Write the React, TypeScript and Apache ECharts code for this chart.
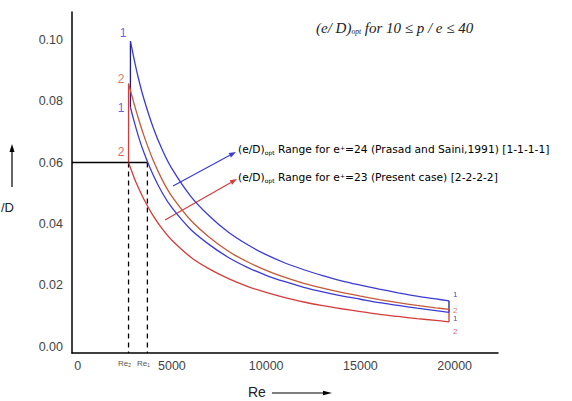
import React, { useEffect, useRef } from "react";
import * as echarts from "echarts";

// ---- data ----
const RE_TICKS = [0, 5000, 10000, 15000, 20000];
const ED_TICKS = [0, 0.02, 0.04, 0.06, 0.08, 0.1];
const RE2 = 2700;
const RE1 = 3700;
const ED_LIMIT = 0.06;

const reBlue = [2800, 3000, 3200, 3500, 4000, 4500, 5000, 6000, 7000, 8000, 9000, 10000, 11000, 12000, 13000, 14000, 15000, 16000, 17000, 18000, 19000, 19700];
const reRed = [2700, 3000, 3200, 3500, 4000, 4500, 5000, 6000, 7000, 8000, 9000, 10000, 11000, 12000, 13000, 14000, 15000, 16000, 17000, 18000, 19000, 19700];
const blueUpper = [0.0995, 0.0935, 0.088, 0.081, 0.0715, 0.064, 0.058, 0.049, 0.0425, 0.0373, 0.0333, 0.03, 0.0273, 0.0251, 0.0232, 0.0215, 0.0201, 0.0188, 0.0176, 0.0165, 0.0156, 0.015];
const redUpper = [0.0857, 0.079, 0.0748, 0.069, 0.0608, 0.0542, 0.049, 0.0412, 0.0356, 0.0311, 0.0277, 0.0249, 0.0226, 0.0207, 0.0191, 0.0177, 0.0165, 0.0154, 0.0144, 0.0135, 0.0127, 0.0122];
const blueLower = [0.078, 0.0733, 0.069, 0.0635, 0.056, 0.05, 0.0453, 0.0382, 0.0332, 0.0291, 0.0259, 0.0233, 0.0212, 0.0194, 0.0179, 0.0166, 0.0155, 0.0144, 0.0135, 0.0126, 0.0118, 0.0112];
const redLower = [0.06, 0.055, 0.0521, 0.0482, 0.0427, 0.0383, 0.0347, 0.0292, 0.0253, 0.0222, 0.0197, 0.0177, 0.016, 0.0146, 0.0134, 0.0124, 0.0115, 0.0106, 0.0099, 0.0092, 0.0086, 0.0081];

const X_MIN = -300;
const X_MAX = 22300;
const Y_MIN = -0.002;
const Y_MAX = 0.109;

const BLUE = "#3b3bd6";
const NAVY = "#202080";
const RED = "#d43c3c";
const RED2 = "#c45a38";

export default function App() {
  const ref = useRef<HTMLDivElement>(null);

  useEffect(() => {
    document.body.style.margin = "0";
    if (!ref.current) return;
    const chart = echarts.init(ref.current, null, { renderer: "svg" });

    const pts = (xs: number[], ys: number[]) => xs.map((x, i) => [x, ys[i]]);
    const last = reBlue.length - 1;
    const curve = (name: string, data: number[][], color: string) => ({
      name,
      type: "line",
      data,
      smooth: 0.3,
      showSymbol: false,
      symbol: "none",
      lineStyle: { color, width: 1.3 },
      z: 3,
    });
    const seg = (data: number[][], color: string, type: any = "solid", width = 1.3) => ({
      type: "line",
      data,
      showSymbol: false,
      symbol: "none",
      lineStyle: { color, width, type },
      z: 2,
    });

    const lbl = (x: number, y: number, text: string, color: string, pos: string, off: number[], size: number) => ({
      value: [x, y],
      name: text,
      label: { show: true, position: pos, offset: off, color, fontSize: size, distance: 3 },
    });

    const labelSeries = {
      type: "scatter",
      symbolSize: 0,
      silent: true,
      label: { show: true, formatter: (p: any) => p.data.name, fontFamily: "Arial, Liberation Sans, sans-serif" },
      data: [
        lbl(reBlue[0], blueUpper[0], "1", BLUE, "left", [-1, -8], 12),
        lbl(reRed[0], redUpper[0], "2", RED2, "left", [-1, -5], 12),
        lbl(reBlue[0], blueLower[0], "1", BLUE, "left", [-3, 1], 12),
        lbl(reRed[0], redLower[0], "2", RED, "left", [-1, -11], 12),
        lbl(reBlue[last], blueUpper[last], "1", NAVY, "right", [1, -6], 8),
        lbl(reRed[last], redUpper[last], "2", RED2, "right", [1, 1], 8),
        lbl(reBlue[last], blueLower[last], "1", NAVY, "right", [1, 6], 8),
        lbl(reRed[last], redLower[last], "2", RED, "right", [1, 10], 8),
      ],
      z: 5,
    };

    const tickFont = { color: "#444", fontSize: 12.5, fontFamily: "Arial, Liberation Sans, sans-serif" };

    const arrow = (x1: number, y1: number, x2: number, y2: number, color: string, hl = 7, hw = 2.5) => {
      const dx = x2 - x1;
      const dy = y2 - y1;
      const len = Math.sqrt(dx * dx + dy * dy);
      const ux = dx / len;
      const uy = dy / len;
      const bx = x2 - ux * hl;
      const by = y2 - uy * hl;
      return [
        { type: "line", shape: { x1, y1, x2: bx, y2: by }, style: { stroke: color, lineWidth: 1.2 } },
        {
          type: "polygon",
          shape: { points: [[x2, y2], [bx - uy * hw, by + ux * hw], [bx + uy * hw, by - ux * hw]] },
          style: { fill: color },
        },
      ];
    };

    const annFont = "DejaVu Sans, Arial, sans-serif";
    const annRich = (color: string) => ({
      b: { fontSize: 10.7, color, fontFamily: annFont },
      s: { fontSize: 6, color, fontFamily: annFont, verticalAlign: "bottom", padding: [5, 0, 0, 0] },
      u: { fontSize: 6, color, fontFamily: annFont, verticalAlign: "top", padding: [0, 0, 5, 0] },
    });

    chart.setOption({
      animation: false,
      grid: { left: 72, right: 74, top: 12, bottom: 48 },
      xAxis: {
        type: "value",
        min: X_MIN,
        max: X_MAX,
        axisLine: { show: true, onZero: false, lineStyle: { color: "#000", width: 1.5 } },
        axisTick: { show: false },
        splitLine: { show: false },
        axisLabel: {
          ...tickFont,
          margin: 6,
          customValues: [...RE_TICKS, RE2, RE1],
          formatter: (v: number) =>
            v === RE2 ? "{r|Re₂}" : v === RE1 ? "{r|Re₁}" : String(v),
          rich: { r: { fontSize: 8, color: "#555", padding: [0, 8, 2, 0], fontFamily: "Arial, sans-serif" } },
        },
      },
      yAxis: {
        type: "value",
        min: Y_MIN,
        max: Y_MAX,
        axisLine: { show: true, onZero: false, lineStyle: { color: "#000", width: 1.5 } },
        axisTick: { show: false },
        splitLine: { show: false },
        axisLabel: {
          ...tickFont,
          margin: 9,
          customValues: ED_TICKS,
          formatter: (v: number) => v.toFixed(2),
        },
      },
      series: [
        curve("blueUpper", pts(reBlue, blueUpper), BLUE),
        curve("redUpper", pts(reRed, redUpper), RED2),
        curve("blueLower", pts(reBlue, blueLower), BLUE),
        curve("redLower", pts(reRed, redLower), RED),
        seg([[reBlue[0], blueLower[0]], [reBlue[0], blueUpper[0]]], NAVY),
        seg([[reBlue[last], blueLower[last]], [reBlue[last], blueUpper[last]]], NAVY),
        seg([[reRed[0], redLower[0]], [reRed[0], redUpper[0]]], RED),
        seg([[reRed[last], redLower[last]], [reRed[last], redUpper[last]]], RED),
        seg([[X_MIN, ED_LIMIT], [RE1, ED_LIMIT]], "#000", "solid", 1.5),
        seg([[RE2, ED_LIMIT], [RE2, Y_MIN]], "#000", [5, 4], 1.3),
        seg([[RE1, ED_LIMIT], [RE1, Y_MIN]], "#000", [5, 4], 1.3),
        labelSeries,
      ],
      graphic: [
        {
          type: "text",
          left: 316,
          top: 20,
          style: {
            text: "{a|(e/ D)}{s|opt}{a| for 10 ≤ p / e ≤ 40}",
            rich: {
              a: { fontSize: 15, fontStyle: "italic", fontFamily: "Liberation Serif, Times New Roman, serif", fill: "#222" },
              s: { fontSize: 7.5, fontStyle: "italic", fontFamily: "Liberation Serif, serif", fill: "#222", verticalAlign: "bottom", padding: [8, 0, 0, 0] },
            },
          },
        },
        {
          type: "text",
          x: 238,
          y: 144,
          style: {
            text: "{b|(e/D)}{s|opt}{b| Range for e}{u|+}{b|=24 (Prasad and Saini,1991) [1-1-1-1]}",
            rich: annRich(BLUE),
          },
        },
        {
          type: "text",
          x: 238,
          y: 172,
          style: {
            text: "{b|(e/D)}{s|opt}{b| Range for e}{u|+}{b|=23 (Present case) [2-2-2-2]}",
            rich: annRich(RED),
          },
        },
        ...arrow(173, 186, 236, 152, BLUE),
        ...arrow(165, 220, 237, 179, RED),
        ...arrow(12, 187, 12, 144, "#000", 8, 2.5),
        ...arrow(272, 393, 332, 393, "#000", 9, 2.2),
        {
          type: "text",
          x: 1,
          y: 201,
          style: { text: "/D", fontSize: 13, fontFamily: "Arial, sans-serif", fill: "#222" },
        },
        {
          type: "text",
          x: 248,
          y: 385,
          style: { text: "Re", fontSize: 14, fontFamily: "Arial, sans-serif", fill: "#222" },
        },
      ],
    });

    return () => chart.dispose();
  }, []);

  return <div ref={ref} style={{ width: 572, height: 401 }} />;
}
